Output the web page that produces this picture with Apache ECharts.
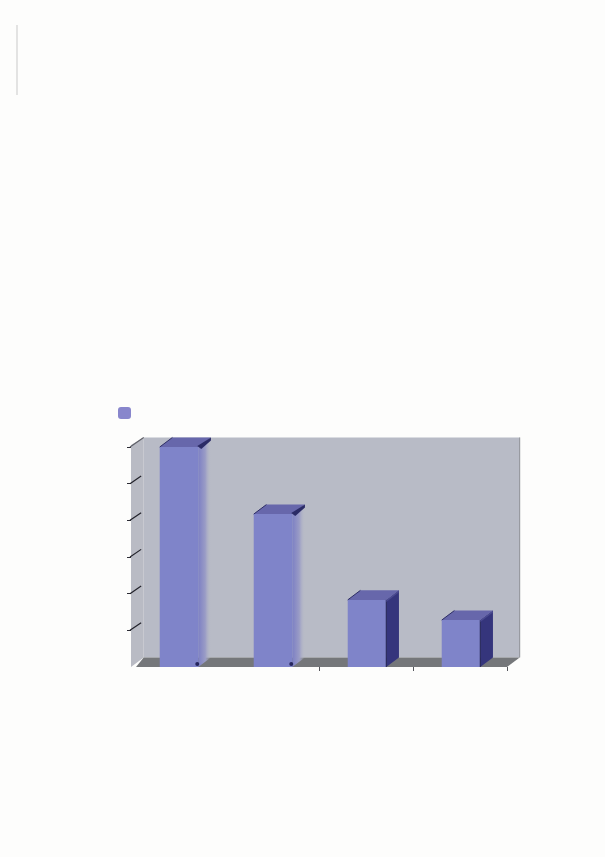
<!DOCTYPE html>
<html>
<head>
<meta charset="utf-8">
<script src="https://cdn.jsdelivr.net/npm/echarts@6/dist/echarts.min.js"></script>
<style>
html,body{margin:0;padding:0;background:#fdfdfc;}
#c{width:605px;height:857px;filter:blur(0.6px);}
</style>
</head>
<body>
<div id="c"></div>
<script>
const categories = ['1', '2', '3', '4'];
const seriesName = 'Series 1';
const values = [6, 4.17, 1.83, 1.28];
const valueTicks = [1, 2, 3, 4, 5, 6];

const chart = echarts.init(document.getElementById('c'), null, {renderer: 'canvas'});

function depth(api) {
  return {dx: api.size([1, 0])[0] * 0.135, dy: api.size([0, 1])[1] * 0.26};
}
function poly(points, style, z2) {
  return {type: 'polygon', shape: {points}, style, z2: z2 || 0};
}
function renderRoom(params, api) {
  const c = params.coordSys, d = depth(api);
  const x0 = c.x, x1 = c.x + c.width, y0 = c.y, y1 = c.y + c.height;
  const children = [
    poly([[x0 + d.dx, y0 - d.dy], [x1 + d.dx, y0 - d.dy], [x1 + d.dx, y1 - d.dy], [x0 + d.dx, y1 - d.dy]], {fill: '#b8bbc6'}),
    poly([[x0, y0 - 2], [x0 + d.dx, y0 - d.dy], [x0 + d.dx, y1 - d.dy], [x0, y1]], {fill: '#b9bbc4'}),
    poly([[x0 + 5, y1], [x0 + d.dx, y1 - d.dy], [x1 + d.dx, y1 - d.dy], [x1, y1]], {fill: '#75777a'}),
    {type: 'line', shape: {x1: x1 + d.dx, y1: y0 - d.dy, x2: x1 + d.dx, y2: y1 - d.dy},
      style: {stroke: '#8c8e94', lineWidth: 1}, z2: 2}
  ];
  valueTicks.forEach(function (t) {
    const p = api.coord([0, t]);
    children.push({type: 'line', z2: 3,
      shape: {x1: x0 - 1, y1: p[1], x2: x0 + d.dx * (t === 6 ? 1 : 0.8), y2: p[1] - d.dy * (t === 6 ? 1 : 0.8)},
      style: {stroke: t === 6 ? '#5f6068' : '#22222a', lineWidth: 1.2}});
  });
  return {type: 'group', children};
}
function renderBar(params, api) {
  const i = api.value(0), v = api.value(1);
  const top = api.coord([i, v]), base = api.coord([i, 0]);
  const band = api.size([1, 0])[0], w = band * 0.41, d = depth(api);
  const l = top[0] - w / 2 + 1, r = l + w, t = top[1], b = base[1];
  const soft = i < 2;
  const sideFill = soft
    ? new echarts.graphic.LinearGradient(0, 0, 1, 0, [
        {offset: 0, color: '#7d80c4'}, {offset: 0.55, color: '#9a9cc6'}, {offset: 1, color: 'rgba(183,186,198,0)'}])
    : '#35357c';
  const children = [
    poly([[r, t], [r + d.dx, t - d.dy], [r + d.dx, b - d.dy], [r, b]], {fill: sideFill}),
    poly([[l, t], [l + d.dx, t - d.dy], [r + d.dx, t - d.dy], [r, t]], {fill: '#6767ab'}),
    {type: 'rect', shape: {x: l, y: t, width: w, height: b - t}, style: {fill: '#7f84c9'}},
    {type: 'line', shape: {x1: l, y1: t, x2: l + d.dx, y2: t - d.dy}, style: {stroke: '#2e2e66', lineWidth: 1}}
  ];
  if (soft) {
    children.push(poly([[r - 1, t - 1], [r + d.dx, t - d.dy], [r + d.dx, t - d.dy + 3], [r + 3, t + 2]], {fill: '#2b2b66'}));
    children.push({type: 'circle', shape: {cx: r - 1, cy: b - 3, r: 2}, style: {fill: '#26265e'}});
  } else {
    children.push({type: 'line', shape: {x1: r, y1: t, x2: r, y2: b}, style: {stroke: '#20204f', lineWidth: 1}});
    children.push(poly([[r, t], [r + d.dx, t - d.dy], [r + d.dx, t - d.dy + 2], [r, t + 2]], {fill: '#4a4a90'}));
  }
  return {type: 'group', children};
}

chart.setOption({
  animation: false,
  backgroundColor: '#fdfdfc',
  legend: {
    left: 113, top: 402, itemWidth: 13, itemHeight: 12, icon: 'roundRect',
    data: [seriesName], formatter: function () { return ''; }
  },
  grid: {left: 131, top: 447, width: 376, height: 220, containLabel: false},
  xAxis: {
    type: 'category', data: categories, boundaryGap: true,
    axisLine: {show: false},
    axisTick: {show: true, length: 4, lineStyle: {color: '#55565c', width: 1},
      interval: function (index) { return index >= 2; }},
    axisLabel: {show: false}, splitLine: {show: false}
  },
  yAxis: {
    type: 'value', min: 0, max: 6, interval: 1,
    axisLine: {show: false},
    axisTick: {show: true, length: 4, customValues: valueTicks, lineStyle: {color: '#2c2c34', width: 1}},
    axisLabel: {show: false}, splitLine: {show: false}
  },
  series: [
    {type: 'custom', name: 'room', silent: true, z: 1, renderItem: renderRoom, data: [[0, 0]], encode: {x: 0, y: 1}},
    {type: 'custom', name: seriesName, z: 2, renderItem: renderBar,
      itemStyle: {color: '#8886cc'},
      data: values.map(function (v, i) { return [i, v]; }), encode: {x: 0, y: 1}}
  ],
  graphic: [{type: 'line', shape: {x1: 17, y1: 25, x2: 17, y2: 95}, style: {stroke: '#c9c9c9', lineWidth: 1}}]
});
</script>
</body>
</html>
